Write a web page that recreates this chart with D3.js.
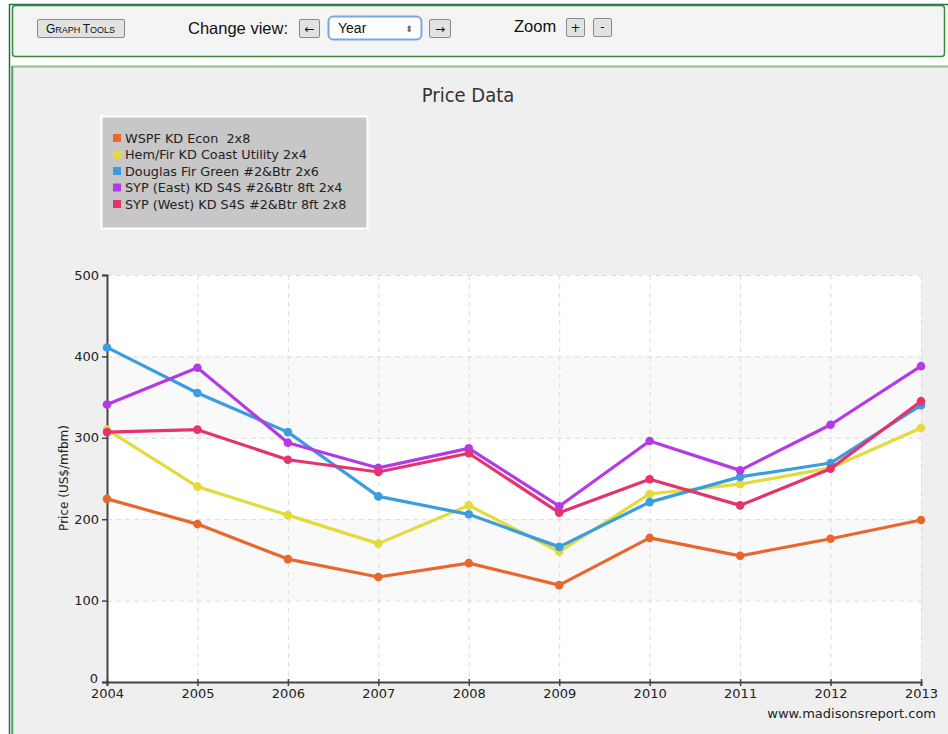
<!DOCTYPE html>
<html><head><meta charset="utf-8">
<script src="https://cdn.jsdelivr.net/npm/d3@7"></script>
<style>
html,body{margin:0;padding:0;background:#fff;}
svg{display:block;}
text{white-space:pre;}
</style></head>
<body>
<svg id="c" width="948" height="734"></svg>
<script>
const years = [2004,2005,2006,2007,2008,2009,2010,2011,2012,2013];
const seriesNames = ["WSPF KD Econ  2x8","Hem/Fir KD Coast Utility 2x4","Douglas Fir Green #2&Btr 2x6","SYP (East) KD S4S #2&Btr 8ft 2x4","SYP (West) KD S4S #2&Btr 8ft 2x8"];
const seriesColors = ["#e8672f","#e3da3c","#3a9de0","#b53ae6","#e5336f"];
const wspf   = [225,194,151,129,146,119,177,155,176,199];
const hemfir = [310,240,205,170,217,160,231,243,263,312];
const dougfir= [411,355,307,228,206,166,221,252,269,340];
const sypEast= [341,386,294,263,287,216,296,260,316,388];
const sypWest= [307,310,273,258,281,208,249,217,262,345];
const yTicks = [0,100,200,300,400,500];
const seriesValues = [wspf,hemfir,dougfir,sypEast,sypWest];

const svg = d3.select("#c");
const font = "'DejaVu Sans', Verdana, sans-serif";

// page frame
svg.append("rect").attr("x",0).attr("y",0).attr("width",948).attr("height",734).attr("fill","#ffffff");
svg.append("line").attr("x1",9.5).attr("x2",9.5).attr("y1",4).attr("y2",734).attr("stroke","#1f6e4a").attr("stroke-width",1.5);
svg.append("line").attr("x1",9).attr("x2",948).attr("y1",4.5).attr("y2",4.5).attr("stroke","#1f6e4a").attr("stroke-width",1.5);
// toolbar
svg.append("rect").attr("x",12.5).attr("y",5.5).attr("width",932).attr("height",51).attr("rx",3)
  .attr("fill","#f4f4f4").attr("stroke","#3a8a3a").attr("stroke-width",1.5);
// chart panel
svg.append("rect").attr("x",12.5).attr("y",66.5).attr("width",940).attr("height",680)
  .attr("fill","#efefef").attr("stroke","#8fc08f").attr("stroke-width",2);
svg.append("line").attr("x1",12).attr("x2",12).attr("y1",66).attr("y2",734).attr("stroke","#2e8b3e").attr("stroke-width",1);

// toolbar controls
function button(x,y,w,h){
  svg.append("rect").attr("x",x+0.5).attr("y",y+0.5).attr("width",w).attr("height",h).attr("rx",1.5)
    .attr("fill","#e2e2e2").attr("stroke","#8a8a8a").attr("stroke-width",1);
}
button(37,19,87,18);
const gt = svg.append("text").attr("x",80.5).attr("y",33).attr("text-anchor","middle")
  .attr("font-family","'Liberation Sans', Arial, sans-serif").attr("font-size",12).attr("fill","#111");
gt.append("tspan").text("G"); gt.append("tspan").attr("font-size",9).text("RAPH ");
gt.append("tspan").text("T"); gt.append("tspan").attr("font-size",9).text("OOLS");
svg.append("text").attr("x",188).attr("y",34).attr("font-family","'Liberation Sans', Arial, sans-serif").attr("font-size",16.5).attr("fill","#111").text("Change view:");
button(299,19,20,18);
svg.append("text").attr("x",309.5).attr("y",33).attr("text-anchor","middle").attr("font-family","'DejaVu Sans', sans-serif").attr("font-size",12).attr("fill","#111").text("←");
svg.append("rect").attr("x",328.5).attr("y",16.5).attr("width",93).attr("height",23).attr("rx",5)
  .attr("fill","#fff").attr("stroke","#7aa7de").attr("stroke-width",2);
svg.append("text").attr("x",338).attr("y",33).attr("font-family","'Liberation Sans', Arial, sans-serif").attr("font-size",14).attr("fill","#111").text("Year");
svg.append("text").attr("x",409).attr("y",32).attr("text-anchor","middle").attr("font-family","'DejaVu Sans', sans-serif").attr("font-size",9).attr("fill","#666").text("⬍");
button(429,19,21,18);
svg.append("text").attr("x",440).attr("y",33).attr("text-anchor","middle").attr("font-family","'DejaVu Sans', sans-serif").attr("font-size",12).attr("fill","#111").text("→");
svg.append("text").attr("x",514).attr("y",32).attr("font-family","'Liberation Sans', Arial, sans-serif").attr("font-size",16.5).attr("fill","#111").text("Zoom");
button(566,18,18,18);
svg.append("text").attr("x",575.5).attr("y",32).attr("text-anchor","middle").attr("font-family","'DejaVu Sans', sans-serif").attr("font-size",12).attr("fill","#111").text("+");
button(593,18,18,18);
svg.append("text").attr("x",602.5).attr("y",31).attr("text-anchor","middle").attr("font-family","'DejaVu Sans', sans-serif").attr("font-size",12).attr("fill","#111").text("-");

// title
svg.append("text").attr("x",468).attr("y",102).attr("text-anchor","middle")
  .attr("font-family",font).attr("font-size",20).attr("fill","#333").attr("font-stretch","condensed").text("Price Data");

// scales
const x = d3.scalePoint().domain(years).range([107,921]);
const y = d3.scaleLinear().domain([0,500]).range([682,275]);

// plot background bands
const g = svg.append("g");
g.append("rect").attr("x",107).attr("y",275).attr("width",814).attr("height",407).attr("fill","#ffffff");
g.selectAll("rect.band").data([100,300]).enter().append("rect").attr("class","band")
  .attr("x",107).attr("width",814).attr("y",d=>y(d+100)).attr("height",d=>y(d)-y(d+100)).attr("fill","#f9f9f9");

// grid
g.selectAll("line.hg").data(yTicks.slice(1)).enter().append("line").attr("class","hg")
  .attr("x1",107).attr("x2",921).attr("y1",d=>y(d)+0.5).attr("y2",d=>y(d)+0.5)
  .attr("stroke","#dcdcdc").attr("stroke-dasharray","5,4");
g.selectAll("line.vg").data(years.slice(1)).enter().append("line").attr("class","vg")
  .attr("x1",d=>x(d)+0.5).attr("x2",d=>x(d)+0.5).attr("y1",275).attr("y2",682)
  .attr("stroke","#dcdcdc").attr("stroke-dasharray","5,4");

// axes
const yAxis = d3.axisLeft(y).tickValues(yTicks).tickSize(5).tickPadding(3);
const ya = svg.append("g").attr("transform","translate(107,0)").call(yAxis);
ya.select(".domain").attr("stroke","#444").attr("stroke-width",2);
ya.selectAll(".tick line").attr("stroke","#444").attr("stroke-width",1.5);
ya.selectAll(".tick text").attr("font-family",font).attr("font-size",13).attr("fill","#222");
ya.selectAll(".tick").filter(d=>d===0).select("text").attr("dy","0.05em").attr("dx","-1");

const xAxis = d3.axisBottom(x).tickSize(4).tickPadding(3).tickFormat(d3.format("d"));
const xa = svg.append("g").attr("transform","translate(0,682)").call(xAxis);
xa.select(".domain").attr("stroke","#444").attr("stroke-width",2);
xa.selectAll(".tick line").attr("stroke","#444").attr("stroke-width",1.5).attr("y1",-3);
xa.selectAll(".tick text").attr("font-family",font).attr("font-size",13).attr("fill","#222");

// y label
svg.append("text").attr("transform","translate(68,478) rotate(-90)").attr("text-anchor","middle")
  .attr("font-family",font).attr("font-size",12).attr("fill","#222").text("Price (US$/mfbm)");

// lines
const line = d3.line().x((d,i)=>x(years[i])).y(d=>y(d));
seriesValues.forEach((vals,si)=>{
  svg.append("path").datum(vals).attr("d",line).attr("fill","none")
    .attr("stroke",seriesColors[si]).attr("stroke-width",3.2).attr("stroke-linejoin","round");
  svg.selectAll(null).data(vals).enter().append("circle")
    .attr("cx",(d,i)=>x(years[i])).attr("cy",d=>y(d)).attr("r",4.3).attr("fill",seriesColors[si]);
});

// legend
const lg = svg.append("g");
lg.append("rect").attr("x",101.5).attr("y",116.5).attr("width",266).attr("height",112)
  .attr("fill","#c7c7c7").attr("stroke","#ffffff").attr("stroke-width",2);
seriesNames.forEach((n,i)=>{
  const yy = 138 + i*16.5;
  lg.append("rect").attr("x",113).attr("y",yy-4).attr("width",8).attr("height",8).attr("fill",seriesColors[i]);
  lg.append("text").attr("x",125).attr("y",yy+4.5).attr("font-family",font).attr("font-size",12.8)
    .attr("fill","#222").attr("xml:space","preserve").text(n);
});

// source
svg.append("text").attr("x",936).attr("y",718).attr("text-anchor","end").attr("font-family",font)
  .attr("font-size",13).attr("fill","#222").text("www.madisonsreport.com");
</script>
</body></html>
